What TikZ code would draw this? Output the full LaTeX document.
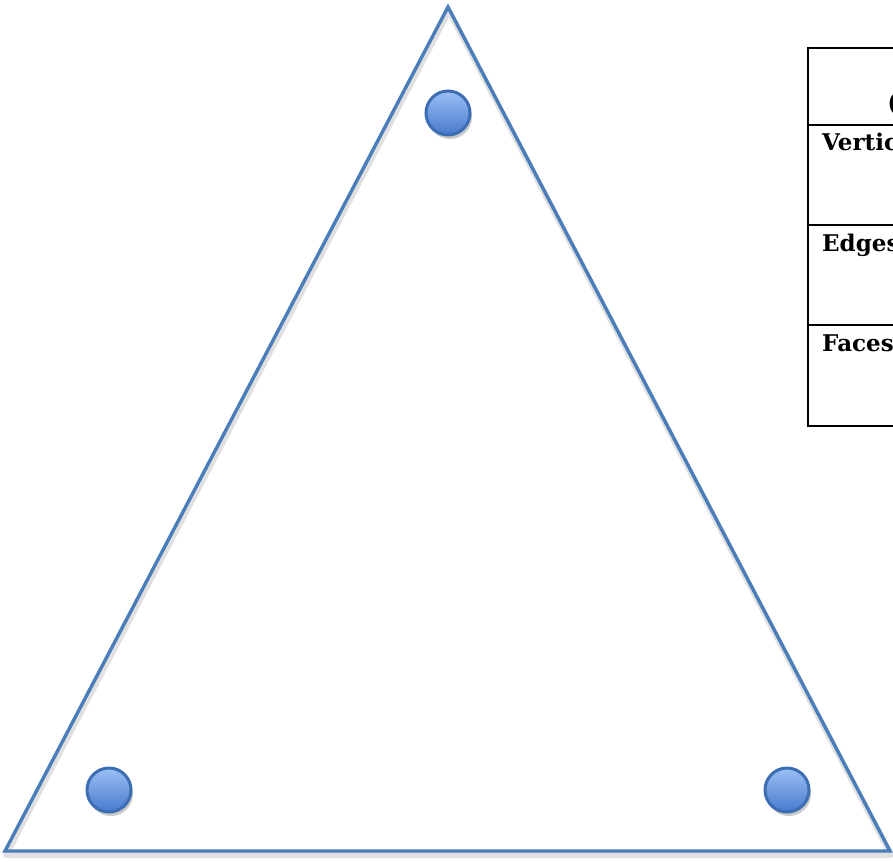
\documentclass[tikz,border=0pt]{standalone}
\usepackage{fontspec}
\newfontfamily\tablefont{DejaVu Serif}
\usetikzlibrary{positioning,shadows,calc}
\definecolor{EdgeBlue}{HTML}{4A7EBB}
\definecolor{BallTop}{HTML}{9CC0F6}
\definecolor{BallBottom}{HTML}{4779CC}
\definecolor{BallRim}{HTML}{3D6DB3}

\begin{document}
\begin{tikzpicture}[x=1pt,y=-1pt,
    ball/.style={circle, minimum size=44pt, inner sep=0pt, draw=BallRim,
      line width=3pt, top color=BallTop, bottom color=BallBottom,
      drop shadow={shadow xshift=2pt, shadow yshift=-4pt, opacity=0.35, fill=black!60}},
    rowlabel/.style={anchor=base west, inner sep=0pt,
      font=\tablefont\bfseries\fontsize{23}{26}\selectfont}]
  \useasboundingbox (0,0) rectangle (893,861);
  \clip (0,0) rectangle (893,861);

  % triangle
  \coordinate (apex) at (448,7);
  \coordinate (left) at (5,851);
  \coordinate (right) at (890,851);
  \draw[black!12, line width=6pt, line join=round]
    ($(apex)+(1,4)$) -- ($(left)+(1,4)$) -- ($(right)+(1,4)$) -- cycle;
  \draw[EdgeBlue, line width=3.4pt, line join=miter]
    (apex) -- (left) -- (right) -- cycle;

  % balls at the corners
  \node[ball] (btop) at (448,113) {};
  \node[ball] (bleft) at (109,790) {};
  \node[ball] (bright) at (787,790) {};

  % table
  \coordinate (tab) at (808,48);
  \draw[black, line width=2pt] (tab) rectangle (980,426);
  \foreach \yy in {125,225,325}
    \draw[black, line width=2pt] (808,\yy) -- (980,\yy);
  \node[rowlabel, font=\tablefont\bfseries\fontsize{28}{30}\selectfont]
    (head) at (887,113) {(};
  \foreach \k/\yy/\n in {Vertices/150/vert, Edges/251/edge, Faces/351/face}
    \node[rowlabel] (\n) at (822,\yy) {\k};
\end{tikzpicture}
\end{document}
